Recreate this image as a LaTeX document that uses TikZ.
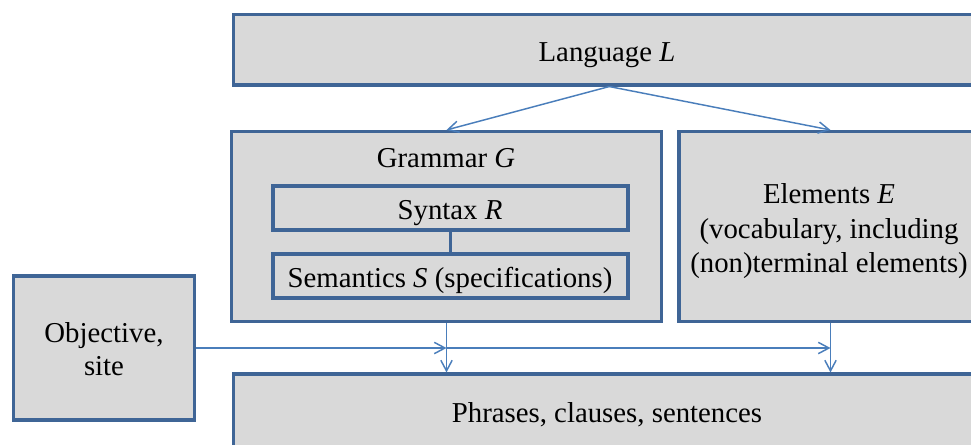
\documentclass[tikz,border=0pt]{standalone}
\usepackage{fontspec}
\setmainfont{Liberation Serif}
\usetikzlibrary{arrows.meta,fit}
\definecolor{boxline}{HTML}{3F6596}
\definecolor{boxfill}{HTML}{D9D9D9}
\definecolor{arrline}{HTML}{4A7EBB}
\begin{document}
\begin{tikzpicture}[x=0.75pt,y=-0.75pt,
  box/.style={draw=boxline,fill=boxfill,line width=2.3pt,inner sep=0pt},
  txt/.style={inner sep=0pt,anchor=base,font=\fontsize{21.6}{25.8}\selectfont},
  arr/.style={draw=arrline,line width=1.1pt,-{Straight Barb[length=8pt,width=8.5pt,line width=1.1pt]}},
  plain/.style={draw=boxline,line width=2.3pt}]
\useasboundingbox (0,0) rectangle (971,444);
\node[box,fit={(233.5,14.5) (985,85)}] (lang) {};
\node[box,fit={(231.5,131.5) (661.5,321.5)}] (gram) {};
\node[box,fit={(273,186) (628,230)}] (syn) {};
\node[box,fit={(273,254) (628,298)}] (sem) {};
\node[box,fit={(679,131.5) (982,321.5)}] (elem) {};
\node[box,fit={(13.5,276) (194.5,420)}] (obj) {};
\node[box,fit={(233.5,374) (982,447)}] (phr) {};
\node[txt] (langt) at (607,61) {Language \textit{L}};
\node[txt] (gramt) at (446,167) {Grammar \textit{G}};
\node[txt] (synt) at (450,219) {Syntax \textit{R}};
\node[txt] (semt) at (450,287) {Semantics \textit{S} (specifications)};
\node[txt] (elemt1) at (829,203) {Elements \textit{E}};
\node[txt] (elemt2) at (829,238) {(vocabulary, including};
\node[txt] (elemt3) at (829,272) {(non)terminal elements)};
\node[txt] (objt1) at (104,342) {Objective,};
\node[txt] (objt2) at (104,375) {site};
\node[txt] (phrt) at (607,422) {Phrases, clauses, sentences};
\draw[plain] (syn.south) -- (sem.north);
\draw[arr] (lang.south) -- (gram.north);
\draw[arr] (lang.south) -- (elem.north);
\draw[arr] (gram.south) -- (gram.south |- phr.north);
\draw[arr] (elem.south) -- (elem.south |- phr.north);
\coordinate (m1) at (gram.south |- obj.east);
\coordinate (m2) at (elem.south |- obj.east);
\draw[arr] (obj.east) -- (m1);
\draw[arr] (m1) -- (m2);
\end{tikzpicture}
\end{document}
